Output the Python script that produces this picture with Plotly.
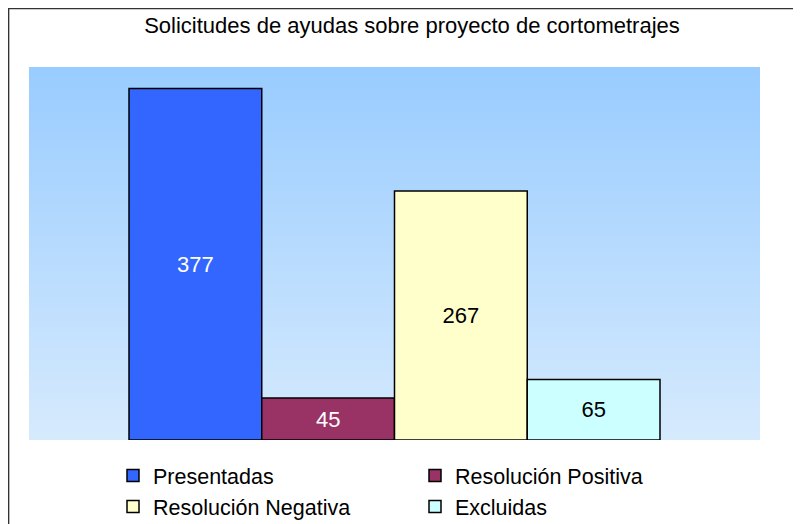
import plotly.graph_objects as go
import zlib, struct, base64

title = "Solicitudes de ayudas sobre proyecto de cortometrajes"
series = ["Presentadas", "Resolución Positiva", "Resolución Negativa", "Excluidas"]
values = [377, 45, 267, 65]
colors = ["#3366FF", "#993366", "#FFFFCC", "#CCFFFF"]
label_colors = ["white", "white", "black", "black"]
category = [""]

W, H = 801, 524
ml, mr, mt, mb = 21, 49, 59, 92
pw, ph = W - ml - mr, H - mt - mb
FONT = "Arial, Liberation Sans, sans-serif"


def gradient_png(top, bot, n=256):
    raw = b""
    for i in range(n):
        t = i / (n - 1)
        px = bytes(round(top[k] + (bot[k] - top[k]) * t) for k in range(3))
        raw += b"\x00" + px
    def chunk(tag, data):
        c = struct.pack(">I", len(data)) + tag + data
        return c + struct.pack(">I", zlib.crc32(tag + data) & 0xffffffff)
    png = b"\x89PNG\r\n\x1a\n"
    png += chunk(b"IHDR", struct.pack(">IIBBBBB", 1, n, 8, 2, 0, 0, 0))
    png += chunk(b"IDAT", zlib.compress(raw))
    png += chunk(b"IEND", b"")
    return "data:image/png;base64," + base64.b64encode(png).decode()


fig = go.Figure()
for name, v, c, lc in zip(series, values, colors, label_colors):
    fig.add_trace(go.Bar(
        x=category, y=[v], name=name,
        marker=dict(color=c, line=dict(color="black", width=1.5)),
        text=[str(v)], textposition="inside", insidetextanchor="middle",
        textfont=dict(family=FONT, size=22, color=lc),
        constraintext="none", hoverinfo="skip",
    ))

fig.add_layout_image(dict(
    source=gradient_png((153, 204, 255), (214, 234, 253)),
    xref="paper", yref="paper", x=0, y=1, sizex=1, sizey=1,
    xanchor="left", yanchor="top", sizing="stretch", layer="below",
))

bx, by = 0.6, 0.6  # border position in layout pixels
shapes = [dict(type="rect", xref="paper", yref="paper",
               x0=(bx - ml) / pw, x1=(W + 20 - ml) / pw,
               y0=-(H + 20 - mt - ph) / ph, y1=(mt + ph - by) / ph,
               line=dict(color="#333333", width=1.5), fillcolor="rgba(0,0,0,0)",
               layer="below")]

fig.update_layout(
    width=W, height=H,
    margin=dict(l=ml, r=mr, t=mt, b=mb),
    paper_bgcolor="white", plot_bgcolor="rgba(0,0,0,0)",
    barmode="group", bargap=0.2736, bargroupgap=0,
    title=dict(text=title, x=404 / W, xanchor="center", y=1 - 17 / H, yanchor="middle",
               font=dict(family=FONT, size=22, color="black")),
    xaxis=dict(visible=False, range=[-0.5, 0.5]),
    yaxis=dict(visible=False, range=[0, 400]),
    showlegend=True,
    legend=dict(orientation="h", xref="container", yref="container",
                x=105 / W, xanchor="left",
                y=1 - 447 / H, yanchor="top",
                entrywidth=257, traceorder="normal", tracegroupgap=0,
                font=dict(family=FONT, size=21.5, color="black"),
                bgcolor="rgba(0,0,0,0)", itemclick=False),
    shapes=shapes,
)
fig.write_html("out.html")
